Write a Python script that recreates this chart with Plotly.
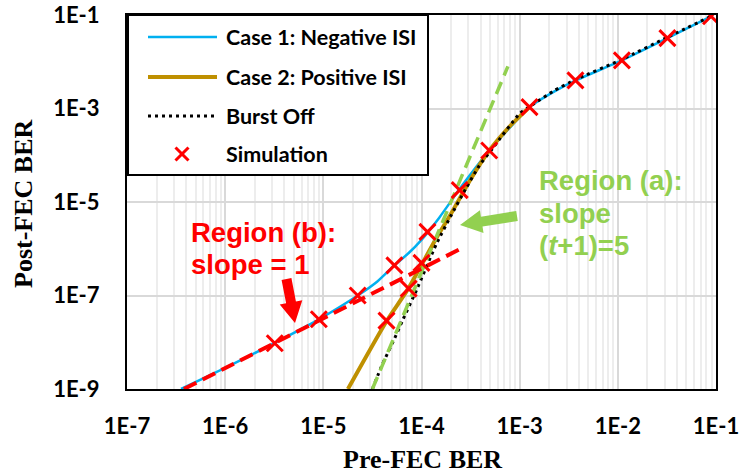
import plotly.graph_objects as go

# ---------------- data ----------------
tick_vals_x = [1e-7, 1e-6, 1e-5, 1e-4, 1e-3, 1e-2, 1e-1]
tick_text_x = ["1E-7", "1E-6", "1E-5", "1E-4", "1E-3", "1E-2", "1E-1"]
tick_vals_y = [1e-9, 1e-7, 1e-5, 1e-3, 1e-1]
tick_text_y = ["1E-9", "1E-7", "1E-5", "1E-3", "1E-1"]

case1_x = [3.55e-7, 1.0e-6, 3.16e-6, 9.0e-6, 2.24e-5, 3.55e-5, 5.25e-5, 7.41e-5, 1.0e-4,
           1.51e-4, 2.45e-4, 3.55e-4, 4.9e-4, 7.94e-4, 1.26e-3, 2.24e-3, 3.72e-3, 1.1e-2,
           3.24e-2, 9.1e-2]
case1_y = [1.0e-9, 2.82e-9, 9.55e-9, 3.09e-8, 1.0e-7, 2.0e-7, 4.37e-7, 8.1e-7, 1.55e-6,
           4.57e-6, 1.91e-5, 5.37e-5, 1.26e-4, 3.89e-4, 1.07e-3, 2.29e-3, 3.98e-3, 1.07e-2,
           3.24e-2, 9.55e-2]

case2_x = [1.78e-5, 4.37e-5, 7.24e-5, 1.41e-4, 1.95e-4, 3.09e-4, 4.9e-4, 7.94e-4, 1.26e-3]
case2_y = [1.0e-9, 2.75e-8, 1.35e-7, 1.66e-6, 5.13e-6, 2.82e-5, 1.26e-4, 4.17e-4, 1.07e-3]

burst_x = [3.16e-5, 3.98e-5, 5.13e-5, 6.46e-5, 8.91e-5, 1.41e-4, 2.0e-4, 2.82e-4, 3.89e-4,
           5.37e-4, 1.0e-3, 1.32e-3, 2.24e-3, 3.72e-3, 1.1e-2, 3.24e-2, 9.1e-2]
burst_y = [1.0e-9, 3.31e-9, 1.02e-8, 3.02e-8, 1.32e-7, 1.23e-6, 5.13e-6, 1.91e-5, 6.03e-5,
           1.45e-4, 7.76e-4, 1.17e-3, 2.4e-3, 4.17e-3, 1.12e-2, 3.39e-2, 9.55e-2]

sim_x = [3.2e-6, 9.0e-6, 2.24e-5, 4.4e-5, 5.3e-5, 7.4e-5, 1.0e-4, 1.15e-4, 2.45e-4, 4.9e-4,
         1.26e-3, 3.7e-3, 1.1e-2, 3.2e-2, 8.9e-2]
sim_y = [9.5e-9, 3.1e-8, 1.0e-7, 2.9e-8, 4.4e-7, 1.4e-7, 5.0e-7, 2.3e-6, 1.8e-5, 1.26e-4,
         1.07e-3, 4.0e-3, 1.07e-2, 3.2e-2, 9.4e-2]

slope5_x = [3.16e-5, 7.59e-4]
slope5_y = [1.0e-9, 7.94e-3]
slope1_x = [3.8e-7, 2.51e-4]
slope1_y = [1.0e-9, 1.0e-6]

legend_labels = ["Case 1: Negative ISI", "Case 2: Positive ISI", "Burst Off", "Simulation"]

# ---------------- geometry helpers (pixel -> paper) ----------------
L, R, T, B = 127, 25, 15, 86
W, H = 741, 475
PW, PH = W - L - R, H - T - B


def PX(x):
    return (x - L) / PW


def PY(y):
    return (H - B - y) / PH


BLUE = "#00B0F0"
GOLD = "#BF9000"
GREEN = "#92D050"
RED = "#FF0000"

fig = go.Figure()
fig.add_trace(go.Scatter(x=case1_x, y=case1_y, mode="lines",
                         line=dict(color=BLUE, width=2.5, shape="spline", smoothing=0.6)))
fig.add_trace(go.Scatter(x=case2_x, y=case2_y, mode="lines",
                         line=dict(color=GOLD, width=4, shape="spline", smoothing=0.6)))
fig.add_trace(go.Scatter(x=burst_x, y=burst_y, mode="lines",
                         line=dict(color="black", width=3, dash="3px,4px", shape="spline", smoothing=0.6)))
fig.add_trace(go.Scatter(x=slope5_x, y=slope5_y, mode="lines",
                         line=dict(color=GREEN, width=3.5, dash="13px,7px")))
fig.add_trace(go.Scatter(x=slope1_x, y=slope1_y, mode="lines",
                         line=dict(color=RED, width=4, dash="14px,7px")))
fig.add_trace(go.Scatter(x=sim_x, y=sim_y, mode="markers",
                         marker=dict(symbol="x-thin", size=16, line=dict(color=RED, width=3))))

tickfont = dict(family="Lato", size=22, color="black", weight="bold")
titlefont = dict(family="Liberation Serif", size=26, color="black", weight="bold")

fig.update_xaxes(type="log", range=[-7, -1], tickvals=tick_vals_x, ticktext=tick_text_x,
                 tickfont=tickfont, ticks="outside", ticklen=0, ticklabelstandoff=17,
                 automargin=False,
                 showgrid=True, gridcolor="#D9D9D9", gridwidth=2,
                 minor=dict(showgrid=True, gridcolor="#EDEDED", gridwidth=1.5, dtick="D1"),
                 showline=True, linecolor="black", linewidth=2, mirror=True, zeroline=False)
fig.update_yaxes(type="log", range=[-9, -1], tickvals=tick_vals_y, ticktext=tick_text_y,
                 tickfont=tickfont, ticks="outside", ticklen=0, ticklabelstandoff=21,
                 automargin=False,
                 showgrid=True, gridcolor="#D9D9D9", gridwidth=2,
                 showline=True, linecolor="black", linewidth=2, mirror=True, zeroline=False)

shapes = []
annotations = []

# axis titles
annotations.append(dict(text="Pre-FEC BER", x=PX(422), y=PY(459), xref="paper", yref="paper",
                        showarrow=False, font=titlefont, xanchor="center", yanchor="middle"))
annotations.append(dict(text="Post-FEC BER", x=PX(23), y=PY(204), xref="paper", yref="paper",
                        showarrow=False, font=titlefont, textangle=-90,
                        xanchor="center", yanchor="middle"))

# manual legend
shapes.append(dict(type="rect", xref="paper", yref="paper", x0=PX(128), x1=PX(428),
                   y0=PY(175), y1=PY(15), fillcolor="white", line=dict(color="black", width=2),
                   layer="above"))
leg_y = [37, 77, 116, 154]
shapes.append(dict(type="line", xref="paper", yref="paper", x0=PX(148), x1=PX(217),
                   y0=PY(leg_y[0]), y1=PY(leg_y[0]), line=dict(color=BLUE, width=2.5), layer="above"))
shapes.append(dict(type="line", xref="paper", yref="paper", x0=PX(148), x1=PX(217),
                   y0=PY(leg_y[1]), y1=PY(leg_y[1]), line=dict(color=GOLD, width=4), layer="above"))
shapes.append(dict(type="line", xref="paper", yref="paper", x0=PX(148), x1=PX(217),
                   y0=PY(leg_y[2]), y1=PY(leg_y[2]),
                   line=dict(color="black", width=3, dash="3px,4px"), layer="above"))
mx, my, ms = 182, leg_y[3], 6.5
shapes.append(dict(type="line", xref="paper", yref="paper", x0=PX(mx - ms), x1=PX(mx + ms),
                   y0=PY(my - ms), y1=PY(my + ms), line=dict(color=RED, width=3), layer="above"))
shapes.append(dict(type="line", xref="paper", yref="paper", x0=PX(mx - ms), x1=PX(mx + ms),
                   y0=PY(my + ms), y1=PY(my - ms), line=dict(color=RED, width=3), layer="above"))
legfont = dict(family="Lato", size=21.5, color="black", weight="bold")
for yy, lab in zip(leg_y, legend_labels):
    annotations.append(dict(text=lab, x=PX(224), y=PY(yy), xref="paper", yref="paper",
                            showarrow=False, font=legfont, xanchor="left", yanchor="middle"))

# region labels
regfont_r = dict(family="Liberation Sans", size=27.5, color=RED, weight="bold")
regfont_g = dict(family="Liberation Sans", size=27.5, color=GREEN, weight="bold")
for txt, yy in [("Region (b):", 232), ("slope = 1", 264)]:
    annotations.append(dict(text=txt, x=PX(189), y=PY(yy), xref="paper", yref="paper",
                            showarrow=False, font=regfont_r, xanchor="left", yanchor="middle"))
for txt, yy in [("Region (a):", 180), ("slope", 213), ("(<i>t</i>+1)=5", 245)]:
    annotations.append(dict(text=txt, x=PX(537), y=PY(yy), xref="paper", yref="paper",
                            showarrow=False, font=regfont_g, xanchor="left", yanchor="middle"))


def arrow_path(x0, y0, x1, y1, hw, headw, headl):
    dx, dy = x1 - x0, y1 - y0
    ln = (dx * dx + dy * dy) ** 0.5
    ux, uy = dx / ln, dy / ln
    nx, ny = -uy, ux
    bx, by = x1 - ux * headl, y1 - uy * headl
    pts = [(x0 + nx * hw, y0 + ny * hw), (bx + nx * hw, by + ny * hw),
           (bx + nx * headw, by + ny * headw), (x1, y1),
           (bx - nx * headw, by - ny * headw), (bx - nx * hw, by - ny * hw),
           (x0 - nx * hw, y0 - ny * hw)]
    return "M " + " L ".join(f"{PX(px):.5f},{PY(py):.5f}" for px, py in pts) + " Z"


shapes.append(dict(type="path", xref="paper", yref="paper",
                   path=arrow_path(286.5, 279, 295, 323, 5, 11.5, 21),
                   fillcolor=RED, line=dict(width=0), layer="above"))
shapes.append(dict(type="path", xref="paper", yref="paper",
                   path=arrow_path(517, 216, 460, 225, 5, 11.5, 22),
                   fillcolor=GREEN, line=dict(width=0), layer="above"))

fig.update_layout(width=W, height=H, margin=dict(l=L, r=R, t=T, b=B, autoexpand=False),
                  paper_bgcolor="white", plot_bgcolor="white", showlegend=False,
                  shapes=shapes, annotations=annotations)

fig.write_html("out.html")
